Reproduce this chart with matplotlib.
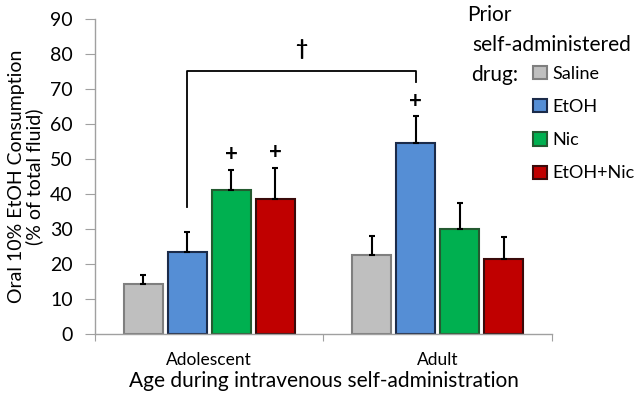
import matplotlib
matplotlib.use("Agg")
import matplotlib.pyplot as plt
import numpy as np

groups = ["Adolescent", "Adult"]
drugs = ["Saline", "EtOH", "Nic", "EtOH+Nic"]
means = {
    "Saline":   [14.3, 22.6],
    "EtOH":     [23.5, 54.7],
    "Nic":      [41.1, 30.0],
    "EtOH+Nic": [38.6, 21.6],
}
sems = {
    "Saline":   [2.5, 5.4],
    "EtOH":     [5.7, 7.6],
    "Nic":      [5.9, 7.4],
    "EtOH+Nic": [8.9, 6.2],
}
plus_marks = [("Nic", 0), ("EtOH+Nic", 0), ("EtOH", 1)]
colors = {"Saline": "#bfbfbf", "EtOH": "#558ed5", "Nic": "#00b050", "EtOH+Nic": "#c00000"}
edges = {"Saline": "#7f7f7f", "EtOH": "#1b2b4a", "Nic": "#245a30", "EtOH+Nic": "#3a0a0a"}

font = "Lato"
plt.rcParams['font.family'] = [font, 'DejaVu Sans']

fig = plt.figure(figsize=(6.38, 4.07), dpi=100)
ax = fig.add_axes([0.149, 0.179, 0.716, 0.774])

x = np.arange(len(groups))
pitch = 0.193
width = 0.171
offsets = {d: (i - 1.5) * pitch for i, d in enumerate(drugs)}

for d in drugs:
    xs = x + offsets[d]
    ax.bar(xs, means[d], width=width, color=colors[d], edgecolor=edges[d], linewidth=1.5, zorder=2,
           label=d)
    ax.errorbar(xs, means[d], yerr=[np.zeros(len(groups)), sems[d]], fmt="none", ecolor="black",
                elinewidth=1.5, capsize=2.5, capthick=1.5, zorder=3)

for d, g in plus_marks:
    top = means[d][g] + sems[d][g]
    ax.text(x[g] + offsets[d], top + 4.3, "+", ha="center", va="center", fontsize=16,
            fontweight="bold", color="black")

# bracket between adolescent EtOH and adult EtOH
b_y = 75.1
xl = x[0] + offsets["EtOH"]
xr = x[1] + offsets["EtOH"]
ax.plot([xl, xl, xr, xr], [36.4, b_y, b_y, 72.1], color="black", lw=1.3, zorder=3)
ax.text((xl + xr) / 2, 81.5, "\u2020", ha="center", va="center", fontsize=15, fontweight="bold")

ax.set_xlim(-0.5, 1.5)
ax.set_ylim(0, 90)
ax.set_yticks(np.arange(0, 91, 10))
ax.set_xticks([-0.5, 0.5, 1.5])
ax.set_xticklabels([])
ax.set_xticks(x, minor=True)
ax.set_xticklabels(groups, minor=True, fontsize=12.5)
ax.tick_params(axis="x", which="minor", length=0, pad=13)
ax.tick_params(axis="x", which="major", length=5, color="#a0a0a0", direction="out")
ax.tick_params(axis="y", length=7, color="#a0a0a0", labelsize=14, pad=9)
for s in ["top", "right"]:
    ax.spines[s].set_visible(False)
for s in ["left", "bottom"]:
    ax.spines[s].set_color("#a0a0a0")
    ax.spines[s].set_linewidth(1.0)

ax.set_ylabel("Oral 10% EtOH Consumption\n(% of total fluid)", fontsize=14, linespacing=1.0, labelpad=5)
ax.set_xlabel("Age during intravenous self-administration", fontsize=15, labelpad=2)

# legend
fig.text(467 / 638, 1 - 15 / 407, "Prior", fontsize=15, ha="left", va="center")
fig.text(472 / 638, 1 - 45 / 407, "self-administered", fontsize=15, ha="left", va="center")
fig.text(471 / 638, 1 - 75 / 407, "drug:", fontsize=15, ha="left", va="center")
handles, labels = ax.get_legend_handles_labels()
leg = fig.legend(handles, labels, loc="upper left", bbox_to_anchor=(533 / 638, 1 - 66 / 407),
                 frameon=False, fontsize=13, handlelength=0.75, handleheight=0.75,
                 handletextpad=0.35, labelspacing=0.95, borderaxespad=0, borderpad=0)

fig.savefig("out.png", dpi=100)
